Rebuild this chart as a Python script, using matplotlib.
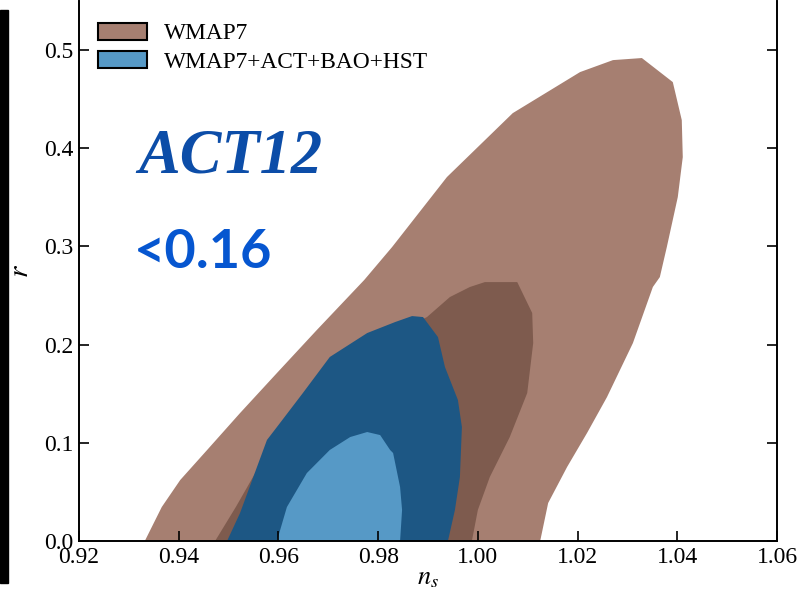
import matplotlib
matplotlib.use("Agg")
import matplotlib.pyplot as plt
from matplotlib.patches import Patch, Rectangle

# contour outlines (n_s, r)
wmap95_ns = [0.9332, 0.9366, 0.9403, 0.9457, 0.9523, 0.9597, 0.9677, 0.9772, 0.9828,
             0.9938, 1.0070, 1.0205, 1.0271, 1.0329, 1.0391, 1.0409, 1.0411, 1.0401,
             1.0379, 1.0365, 1.0351, 1.0311, 1.0259, 1.0219, 1.0179, 1.0141, 1.0125]
wmap95_r = [0.0, 0.0346, 0.0621, 0.0927, 0.1303, 0.1711, 0.2149, 0.2658, 0.2994,
            0.3707, 0.4358, 0.4776, 0.4898, 0.4919, 0.4674, 0.4287, 0.3910, 0.3503,
            0.2994, 0.2688, 0.2587, 0.2016, 0.1466, 0.1100, 0.0754, 0.0387, 0.0]

wmap68_ns = [0.9473, 0.9515, 0.9560, 0.9600, 0.9703, 0.9804, 0.9898, 0.9944, 0.9984,
             1.0014, 1.0079, 1.0109, 1.0111, 1.0099, 1.0064, 1.0024, 1.0000, 0.9988]
wmap68_r = [0.0, 0.0350, 0.0750, 0.1130, 0.1640, 0.2047, 0.2281, 0.2485, 0.2587,
            0.2637, 0.2637, 0.2322, 0.2016, 0.1507, 0.1059, 0.0652, 0.0316, 0.0]

act95_ns = [0.9497, 0.9523, 0.9557, 0.9577, 0.9597, 0.9649, 0.9703, 0.9778, 0.9834,
            0.9868, 0.9890, 0.9920, 0.9934, 0.9960, 0.9968, 0.9964, 0.9954, 0.9940]
act95_r = [0.0, 0.0285, 0.0754, 0.1029, 0.1161, 0.1507, 0.1874, 0.2118, 0.2230,
           0.2291, 0.2281, 0.2077, 0.1772, 0.1436, 0.1161, 0.0652, 0.0316, 0.0]

act68_ns = [0.9597, 0.9617, 0.9657, 0.9703, 0.9744, 0.9778, 0.9804, 0.9824, 0.9830,
            0.9844, 0.9848, 0.9844]
act68_r = [0.0, 0.0346, 0.0692, 0.0927, 0.1059, 0.1110, 0.1079, 0.0927, 0.0896,
           0.0550, 0.0316, 0.0]

xticks = [0.92, 0.94, 0.96, 0.98, 1.00, 1.02, 1.04, 1.06]
yticks = [0.0, 0.1, 0.2, 0.3, 0.4, 0.5]

c_wmap95 = "#a67f71"
c_wmap68 = "#7e5b4e"
c_act95 = "#1d5784"
c_act68 = "#5699c6"

plt.rcParams["font.family"] = ["Liberation Serif", "DejaVu Serif"]
plt.rcParams["mathtext.fontset"] = "stix"

fig = plt.figure(figsize=(8.04, 5.95), dpi=100)
ax = fig.add_axes([79 / 804, 54 / 595, 698 / 804, 540 / 595])

ax.fill(wmap95_ns, wmap95_r, color=c_wmap95, lw=0)
ax.fill(wmap68_ns, wmap68_r, color=c_wmap68, lw=0)
ax.fill(act95_ns, act95_r, color=c_act95, lw=0)
ax.fill(act68_ns, act68_r, color=c_act68, lw=0)

ax.set_xlim(0.92, 1.06)
ax.set_ylim(0.0, 0.55)
ax.set_xticks(xticks)
ax.set_xticklabels([f"{v:.2f}" for v in xticks])
ax.set_yticks(yticks)
ax.set_yticklabels([f"{v:.1f}" for v in yticks])
ax.tick_params(direction="in", length=7, width=1.2, labelsize=17,
               right=True, top=False, pad=4)
ax.spines["top"].set_visible(False)
for s in ["left", "right", "bottom"]:
    ax.spines[s].set_linewidth(1.4)

ax.set_xlabel(r"$n_s$", fontsize=19, labelpad=0)
ax.set_ylabel(r"$r$", fontsize=21, labelpad=7)

handles = [Patch(facecolor=c_wmap95, edgecolor="black", lw=1.5, label="WMAP7"),
           Patch(facecolor=c_act68, edgecolor="black", lw=1.5, label="WMAP7+ACT+BAO+HST")]
ax.legend(handles=handles, loc="upper left", bbox_to_anchor=(-0.006, 1.003),
          frameon=False, fontsize=16.8, handlelength=2.1, handleheight=0.75,
          handletextpad=0.7, labelspacing=0.3, borderaxespad=0.6)

ax.text(0.0845, 0.682, "ACT12", transform=ax.transAxes, fontsize=45,
        fontweight="bold", fontstyle="italic", color="#0c4da8", va="baseline")
ax.text(0.079, 0.5056, "<0.16", transform=ax.transAxes, fontsize=39,
        fontweight="bold", family="Lato", color="#0656d0", va="baseline")

# black strip along the left edge of the screenshot
fig.patches.append(Rectangle((0, 12 / 595), 8 / 804, 573 / 595,
                             transform=fig.transFigure, color="black", zorder=10))

fig.savefig("out.png", dpi=100)
